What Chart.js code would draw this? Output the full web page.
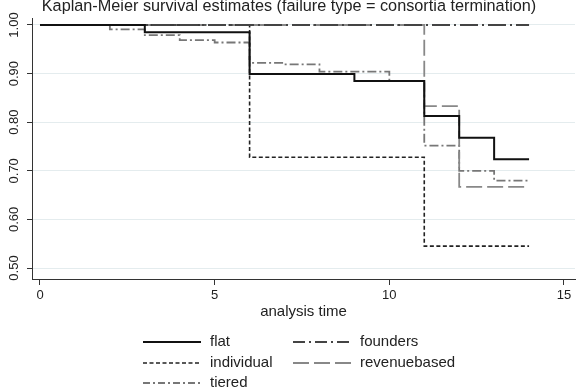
<!DOCTYPE html>
<html>
<head>
<meta charset="utf-8">
<script src="https://cdn.jsdelivr.net/npm/chart.js@4.4.0/dist/chart.umd.min.js"></script>
<style>
  html, body { margin: 0; padding: 0; background: #fff; }
  #wrap { width: 578px; height: 390px; }
</style>
</head>
<body>
<div id="wrap"><canvas id="kmChart"></canvas></div>
<script>
// Kaplan-Meier step values (time, survival)
const flatTime = [0, 3, 6, 9, 11, 12, 13, 14];
const flatSurv = [1, 0.985, 0.899, 0.885, 0.813, 0.768, 0.724, 0.724];
const foundersTime = [0, 14];
const foundersSurv = [1, 1];
const individualTime = [0, 6, 11, 14];
const individualSurv = [1, 0.728, 0.545, 0.545];
const revenueTime = [0, 11, 12, 14];
const revenueSurv = [1, 0.833, 0.667, 0.667];
const tieredTime = [0, 2, 3, 4, 5, 6, 7, 8, 10, 11, 12, 13, 14];
const tieredSurv = [1, 0.991, 0.979, 0.969, 0.964, 0.922, 0.919, 0.904, 0.885, 0.752, 0.70, 0.68, 0.68];

const xTicks = [0, 5, 10, 15];
const yTicks = [0.5, 0.6, 0.7, 0.8, 0.9, 1.0];

const FONT = '"Liberation Sans", Arial, sans-serif';

function toPoints(times, surv) {
    return times.map((t, i) => ({ x: t, y: surv[i] }));
}

// title sits partly cut off at the top edge, like the source image
const titlePlugin = {
    id: 'kmTitle',
    afterDraw(chart) {
        const ctx = chart.ctx;
        ctx.save();
        ctx.fillStyle = '#222';
        ctx.font = '16.25px ' + FONT;
        ctx.textAlign = 'center';
        ctx.textBaseline = 'alphabetic';
        ctx.fillText('Kaplan-Meier survival estimates (failure type = consortia termination)', 289, 11);
        ctx.restore();
    }
};

// two-column legend under the axis title
const legendPlugin = {
    id: 'kmLegend',
    afterDraw(chart) {
        const ctx = chart.ctx;
        const rows = [342, 363, 383];
        const cols = [143, 293];
        chart.data.datasets.forEach((ds, i) => {
            const x = cols[i % 2];
            const y = rows[Math.floor(i / 2)];
            ctx.save();
            ctx.strokeStyle = ds.borderColor;
            ctx.lineWidth = ds.borderWidth;
            ctx.setLineDash(ds.legendDash || ds.borderDash || []);
            ctx.beginPath();
            ctx.moveTo(x, y);
            ctx.lineTo(x + 58, y);
            ctx.stroke();
            ctx.setLineDash([]);
            ctx.fillStyle = '#222';
            ctx.font = '15px ' + FONT;
            ctx.textBaseline = 'middle';
            ctx.fillText(ds.label, x + 67, y);
            ctx.restore();
        });
    }
};

const ctx = document.getElementById('kmChart').getContext('2d');
const kmChart = new Chart(ctx, {
    type: 'line',
    data: {
        datasets: [{
            label: 'flat',
            data: toPoints(flatTime, flatSurv),
            borderColor: '#111',
            borderWidth: 2,
            borderDash: []
        }, {
            label: 'founders',
            data: toPoints(foundersTime, foundersSurv),
            borderColor: '#444',
            borderWidth: 2,
            borderDash: [18, 4, 2, 4],
            legendDash: [12, 4, 2, 4]
        }, {
            label: 'individual',
            data: toPoints(individualTime, individualSurv),
            borderColor: '#222',
            borderWidth: 1.6,
            borderDash: [4, 2.5]
        }, {
            label: 'revenuebased',
            data: toPoints(revenueTime, revenueSurv),
            borderColor: '#888',
            borderWidth: 1.8,
            borderDash: [16, 5]
        }, {
            label: 'tiered',
            data: toPoints(tieredTime, tieredSurv),
            borderColor: '#777',
            borderWidth: 1.8,
            borderDash: [9, 3, 2, 3],
            legendDash: [7, 3, 2, 3]
        }]
    },
    options: {
        responsive: true,
        maintainAspectRatio: false,
        animation: false,
        elements: {
            line: { stepped: true, fill: false, tension: 0 },
            point: { radius: 0, hoverRadius: 0 }
        },
        layout: {
            padding: { top: 18, left: 0, right: 3, bottom: 69 }
        },
        plugins: {
            legend: { display: false },
            title: { display: false },
            tooltip: { enabled: false }
        },
        scales: {
            x: {
                type: 'linear',
                min: -0.229,
                max: 15.315,
                afterBuildTicks: (scale) => { scale.ticks = xTicks.map(v => ({ value: v })); },
                afterFit: (scale) => { scale.height = 42; },
                grid: { display: true, drawOnChartArea: false, tickLength: 6, tickColor: '#333' },
                border: { display: true, color: '#333', width: 1 },
                ticks: {
                    color: '#222',
                    padding: 3,
                    maxRotation: 0,
                    font: { family: FONT, size: 13 }
                },
                title: {
                    display: true,
                    text: 'analysis time',
                    color: '#222',
                    padding: 0,
                    font: { family: FONT, size: 15 }
                }
            },
            y: {
                type: 'linear',
                min: 0.4774,
                max: 1.0144,
                afterBuildTicks: (scale) => { scale.ticks = yTicks.map(v => ({ value: v })); },
                afterFit: (scale) => { scale.width = 32; },
                grid: { color: '#e4ecee', lineWidth: 1, tickLength: 5, tickColor: '#333' },
                border: { display: true, color: '#333', width: 1 },
                ticks: {
                    color: '#222',
                    padding: 0,
                    minRotation: 90,
                    maxRotation: 90,
                    crossAlign: 'center',
                    font: { family: FONT, size: 13 },
                    callback: (v) => v.toFixed(2)
                }
            }
        }
    },
    plugins: [titlePlugin, legendPlugin]
});
</script>
</body>
</html>
